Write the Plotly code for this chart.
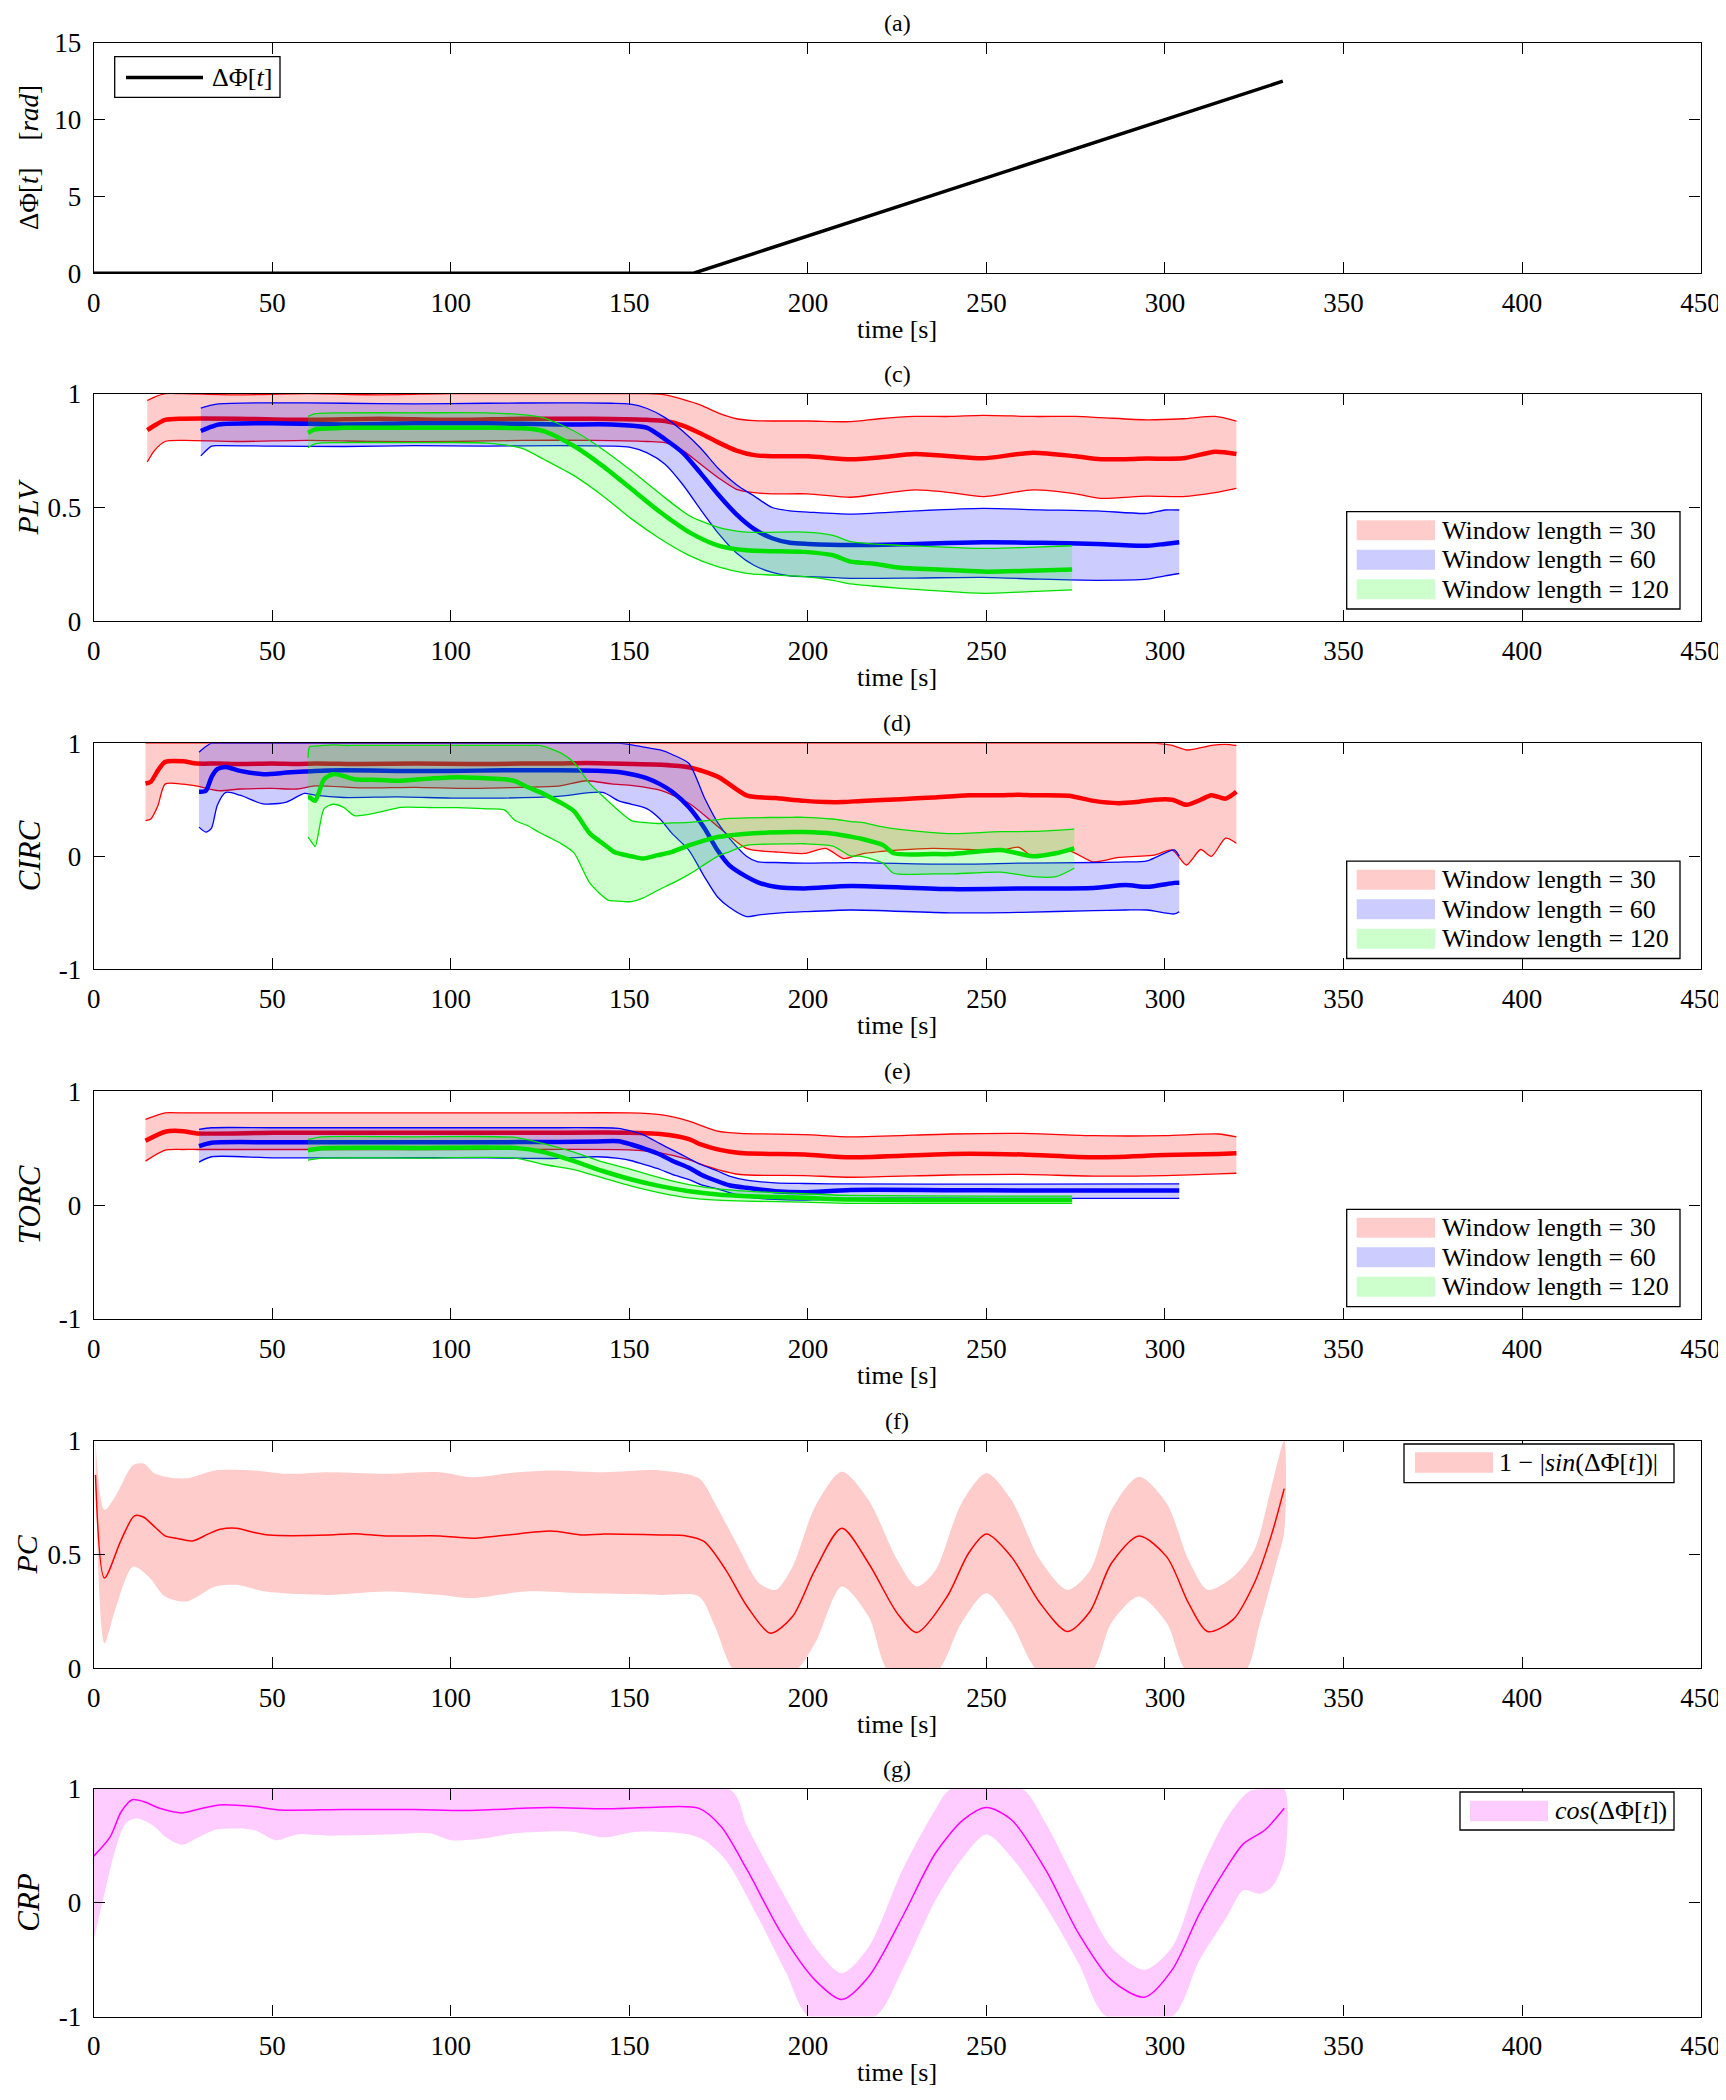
import plotly.graph_objects as go

FONT = "Liberation Serif"

# ---------------- data ----------------
xticks = [0, 50, 100, 150, 200, 250, 300, 350, 400, 450]

# (a) phase difference
a_t = [0, 168, 333]
a_v = [0, 0, 12.5]

# (c) PLV
plv_r_t = [15, 17, 20, 25, 40, 60, 80, 100, 120, 140, 155, 160, 165, 170, 175, 180, 185, 190, 200, 212, 220, 230, 240, 249, 263, 275, 282, 295, 305, 314, 320]
plv_r_m = [0.84, 0.86, 0.885, 0.89, 0.89, 0.885, 0.89, 0.885, 0.89, 0.89, 0.885, 0.88, 0.86, 0.825, 0.785, 0.75, 0.73, 0.725, 0.725, 0.712, 0.72, 0.735, 0.725, 0.716, 0.741, 0.725, 0.712, 0.715, 0.716, 0.745, 0.735]
plv_r_h = [0.97, 0.985, 1.0, 1.0, 0.995, 1.0, 0.995, 1.0, 1.0, 1.0, 1.0, 0.995, 0.975, 0.95, 0.915, 0.89, 0.882, 0.88, 0.88, 0.877, 0.89, 0.9, 0.9, 0.905, 0.9, 0.9, 0.895, 0.885, 0.89, 0.9, 0.88]
plv_r_l = [0.70, 0.75, 0.79, 0.795, 0.79, 0.795, 0.79, 0.79, 0.795, 0.795, 0.79, 0.785, 0.75, 0.69, 0.63, 0.58, 0.565, 0.56, 0.56, 0.545, 0.56, 0.577, 0.565, 0.548, 0.577, 0.56, 0.54, 0.55, 0.548, 0.565, 0.584]

plv_b_t = [30, 33, 35, 50, 70, 90, 110, 130, 145, 150, 155, 160, 165, 170, 175, 180, 185, 190, 195, 200, 212, 230, 249, 265, 281, 295, 300, 304]
plv_b_m = [0.836, 0.855, 0.865, 0.87, 0.865, 0.87, 0.87, 0.865, 0.865, 0.86, 0.85, 0.80, 0.74, 0.65, 0.555, 0.47, 0.405, 0.365, 0.345, 0.34, 0.335, 0.34, 0.347, 0.345, 0.34, 0.332, 0.34, 0.347]
plv_b_h = [0.937, 0.95, 0.955, 0.96, 0.958, 0.955, 0.958, 0.96, 0.958, 0.955, 0.935, 0.895, 0.835, 0.76, 0.67, 0.6, 0.55, 0.5, 0.485, 0.48, 0.471, 0.485, 0.496, 0.49, 0.485, 0.474, 0.489, 0.489]
plv_b_l = [0.727, 0.77, 0.772, 0.77, 0.768, 0.772, 0.77, 0.772, 0.77, 0.765, 0.74, 0.69, 0.60, 0.49, 0.385, 0.30, 0.245, 0.215, 0.2, 0.196, 0.189, 0.19, 0.193, 0.185, 0.18, 0.185, 0.2, 0.21]

plv_g_t = [60, 62, 70, 90, 110, 120, 126, 134.5, 142.5, 150.6, 158.6, 166.7, 174.7, 182.8, 199, 207, 212, 218, 226, 240, 250, 262, 274]
plv_g_m = [0.828, 0.843, 0.85, 0.85, 0.85, 0.848, 0.836, 0.77, 0.683, 0.581, 0.48, 0.392, 0.334, 0.312, 0.305, 0.29, 0.262, 0.254, 0.235, 0.225, 0.218, 0.222, 0.228]
plv_g_h = [0.9, 0.912, 0.916, 0.916, 0.916, 0.908, 0.894, 0.836, 0.756, 0.661, 0.56, 0.465, 0.414, 0.392, 0.392, 0.378, 0.35, 0.34, 0.334, 0.325, 0.32, 0.325, 0.332]
plv_g_l = [0.763, 0.78, 0.785, 0.785, 0.783, 0.76, 0.712, 0.64, 0.552, 0.45, 0.363, 0.29, 0.24, 0.211, 0.196, 0.18, 0.164, 0.155, 0.145, 0.13, 0.123, 0.13, 0.138]

# (d) CIRC
circ_r_t = [14.5, 16, 18, 20, 25, 29, 35, 41, 50, 57, 62, 75, 90, 105, 120, 130, 138, 145, 151, 159, 167, 175, 183, 191, 199, 205, 210, 215, 226, 235, 245, 254, 259, 263, 273, 280, 287, 292, 297, 302, 306, 310, 313, 317, 320]
circ_r_m = [0.644, 0.66, 0.76, 0.835, 0.84, 0.82, 0.82, 0.815, 0.82, 0.815, 0.82, 0.815, 0.82, 0.815, 0.82, 0.82, 0.825, 0.82, 0.815, 0.81, 0.785, 0.70, 0.536, 0.515, 0.49, 0.48, 0.48, 0.49, 0.505, 0.52, 0.54, 0.54, 0.545, 0.54, 0.535, 0.49, 0.47, 0.48, 0.5, 0.5, 0.455, 0.5, 0.54, 0.51, 0.57]
circ_r_h = [1.0, 1.0, 1.0, 1.0, 1.0, 1.0, 1.0, 1.0, 1.0, 1.0, 1.0, 1.0, 1.0, 1.0, 1.0, 1.0, 1.0, 1.0, 1.0, 1.0, 1.0, 1.0, 1.0, 1.0, 1.0, 1.0, 1.0, 1.0, 1.0, 1.0, 1.0, 1.0, 1.0, 1.0, 1.0, 1.0, 1.0, 1.0, 1.0, 0.98, 0.94, 0.96, 0.98, 0.99, 0.98]
circ_r_l = [0.316, 0.33, 0.45, 0.638, 0.638, 0.62, 0.58, 0.595, 0.6, 0.595, 0.623, 0.605, 0.61, 0.6, 0.61, 0.62, 0.668, 0.64, 0.624, 0.58, 0.463, 0.258, 0.067, 0.038, 0.025, 0.07, -0.02, 0.02, 0.056, 0.07, 0.06, 0.05, 0.08, 0.0, 0.05, -0.05, -0.01, 0.0, 0.01, 0.056, -0.077, 0.06, 0.0, 0.16, 0.115]

circ_b_t = [29.5, 31.4, 33, 34.6, 37, 41, 47.5, 54, 59, 62, 70, 85, 100, 115, 130, 142.5, 147, 150.6, 155, 158.6, 162, 166.7, 171, 174.7, 178, 182.8, 186, 190.8, 199, 212, 240, 260, 280, 289, 295, 302.6, 304]
circ_b_m = [0.571, 0.58, 0.7, 0.77, 0.79, 0.755, 0.726, 0.74, 0.75, 0.755, 0.76, 0.755, 0.755, 0.76, 0.76, 0.755, 0.745, 0.726, 0.69, 0.638, 0.57, 0.433, 0.25, 0.053, -0.08, -0.18, -0.23, -0.27, -0.284, -0.263, -0.29, -0.285, -0.28, -0.254, -0.27, -0.235, -0.233]
circ_b_h = [0.92, 0.97, 1.0, 1.0, 1.0, 1.0, 1.0, 1.0, 1.0, 1.0, 1.0, 1.0, 1.0, 1.0, 1.0, 1.0, 1.0, 0.985, 0.96, 0.94, 0.9, 0.82, 0.52, 0.3, 0.16, 0.0, -0.05, -0.055, -0.06, -0.056, -0.07, -0.06, -0.055, -0.05, -0.04, 0.056, 0.0]
circ_b_l = [0.258, 0.214, 0.25, 0.45, 0.565, 0.54, 0.463, 0.48, 0.556, 0.54, 0.52, 0.525, 0.515, 0.515, 0.53, 0.565, 0.49, 0.46, 0.42, 0.33, 0.2, 0.053, -0.18, -0.36, -0.45, -0.533, -0.52, -0.505, -0.49, -0.475, -0.5, -0.495, -0.48, -0.475, -0.475, -0.51, -0.49]

circ_g_t = [60, 60.5, 62, 64.5, 67, 70, 73, 80, 86, 95, 102, 110, 115, 118, 121.6, 124.8, 128, 131, 134.5, 139, 144, 145.7, 150.6, 153.8, 158, 162, 166.7, 170, 174.7, 178, 182.8, 195.6, 199, 207, 212, 215, 221, 224, 235, 240, 254, 263, 269.5, 274.6]
circ_g_m = [0.52, 0.52, 0.49, 0.68, 0.726, 0.71, 0.682, 0.675, 0.668, 0.69, 0.70, 0.69, 0.682, 0.665, 0.61, 0.57, 0.52, 0.47, 0.40, 0.2, 0.08, 0.038, 0.0, -0.02, 0.01, 0.04, 0.097, 0.13, 0.17, 0.185, 0.2, 0.214, 0.214, 0.2, 0.174, 0.155, 0.1, 0.027, 0.02, 0.02, 0.056, 0.0, 0.027, 0.07]
circ_g_h = [0.87, 0.97, 0.975, 0.98, 0.985, 0.98, 0.98, 0.98, 0.98, 0.98, 0.98, 0.98, 0.98, 0.98, 0.98, 0.98, 0.95, 0.91, 0.83, 0.64, 0.49, 0.44, 0.316, 0.3, 0.29, 0.295, 0.30, 0.31, 0.325, 0.335, 0.34, 0.345, 0.345, 0.33, 0.307, 0.3, 0.26, 0.245, 0.21, 0.2, 0.218, 0.22, 0.23, 0.24]
circ_g_l = [0.17, 0.15, 0.088, 0.42, 0.46, 0.433, 0.36, 0.39, 0.433, 0.43, 0.43, 0.42, 0.41, 0.316, 0.27, 0.21, 0.16, 0.11, 0.03, -0.24, -0.387, -0.395, -0.40, -0.37, -0.3, -0.24, -0.16, -0.094, 0.0, 0.04, 0.097, 0.11, 0.111, 0.09, 0.003, 0.0, -0.06, -0.15, -0.155, -0.156, -0.14, -0.18, -0.18, -0.106]

# (e) TORC
torc_r_t = [14.5, 20, 25, 29, 50, 75, 100, 125, 150, 158.6, 166.7, 170, 174.7, 181, 199, 212, 240, 260, 280, 300, 315, 320]
torc_r_m = [0.565, 0.645, 0.65, 0.63, 0.636, 0.636, 0.636, 0.636, 0.636, 0.625, 0.58, 0.533, 0.49, 0.458, 0.445, 0.42, 0.45, 0.445, 0.42, 0.44, 0.45, 0.455]
torc_r_h = [0.753, 0.811, 0.81, 0.81, 0.81, 0.81, 0.81, 0.81, 0.81, 0.795, 0.738, 0.70, 0.65, 0.63, 0.62, 0.6, 0.625, 0.63, 0.61, 0.61, 0.625, 0.6]
torc_r_l = [0.387, 0.483, 0.489, 0.489, 0.489, 0.489, 0.489, 0.489, 0.485, 0.46, 0.40, 0.36, 0.313, 0.269, 0.26, 0.245, 0.265, 0.27, 0.255, 0.26, 0.275, 0.28]

torc_b_t = [29.5, 33, 50, 80, 110, 130, 141, 147, 150.6, 153.8, 158.6, 162, 166.7, 170, 174.7, 178, 182.8, 190.8, 199, 212, 250, 304]
torc_b_m = [0.518, 0.548, 0.553, 0.553, 0.553, 0.555, 0.56, 0.562, 0.533, 0.5, 0.445, 0.39, 0.328, 0.27, 0.21, 0.175, 0.152, 0.123, 0.114, 0.133, 0.13, 0.128]
torc_b_h = [0.665, 0.68, 0.68, 0.68, 0.68, 0.68, 0.68, 0.675, 0.65, 0.62, 0.54, 0.485, 0.41, 0.357, 0.3, 0.255, 0.22, 0.196, 0.19, 0.186, 0.185, 0.186]
torc_b_l = [0.378, 0.425, 0.416, 0.416, 0.416, 0.41, 0.425, 0.41, 0.39, 0.36, 0.313, 0.27, 0.225, 0.18, 0.143, 0.11, 0.073, 0.05, 0.044, 0.06, 0.06, 0.06]

torc_g_t = [60, 64, 90, 118, 126, 134.5, 142.5, 150.6, 158.6, 166.7, 174.7, 182.8, 199, 212, 250, 274]
torc_g_m = [0.483, 0.5, 0.503, 0.503, 0.466, 0.387, 0.3, 0.225, 0.167, 0.123, 0.094, 0.079, 0.064, 0.05, 0.045, 0.045]
torc_g_h = [0.577, 0.6, 0.6, 0.595, 0.54, 0.465, 0.38, 0.313, 0.24, 0.18, 0.143, 0.123, 0.1, 0.085, 0.08, 0.08]
torc_g_l = [0.395, 0.413, 0.413, 0.413, 0.357, 0.313, 0.24, 0.167, 0.108, 0.064, 0.044, 0.035, 0.026, 0.016, 0.016, 0.016]

# (f) PC = 1 - |sin(dPhi)|
pc_m_t = [0.5, 3, 7.7, 11.4, 13.9, 17, 20, 23, 27.7, 32, 35.4, 40, 44.7, 49, 66, 73, 81.7, 97, 106, 115.6, 128, 137, 143, 158.7, 166, 171, 177, 183, 189.5, 195.7, 202, 209.5, 217, 225, 230.5, 239, 245, 250, 257, 265, 272.7, 279, 285, 292.7, 300.5, 306.6, 311.9, 319, 325, 329.7, 333.4]
pc_m = [0.85, 0.397, 0.565, 0.67, 0.665, 0.623, 0.582, 0.572, 0.56, 0.59, 0.611, 0.616, 0.598, 0.586, 0.586, 0.592, 0.582, 0.582, 0.572, 0.586, 0.604, 0.586, 0.59, 0.586, 0.582, 0.557, 0.433, 0.272, 0.155, 0.228, 0.433, 0.616, 0.462, 0.243, 0.158, 0.316, 0.506, 0.59, 0.49, 0.287, 0.162, 0.25, 0.462, 0.582, 0.49, 0.287, 0.162, 0.213, 0.374, 0.58, 0.79]
pc_h_t = [0.5, 3, 6, 11, 14, 17, 20, 26, 34, 44.7, 54, 66, 81.7, 97, 106, 118.6, 128, 143, 158.7, 169.5, 174, 180, 186.4, 191, 195.7, 202, 209.5, 217, 225, 230.5, 235.7, 243, 250, 257, 265, 272.7, 279, 285, 292.7, 300.5, 306.6, 312, 319, 325, 329.7, 333.4]
pc_h = [1.0, 0.696, 0.754, 0.893, 0.9, 0.857, 0.842, 0.835, 0.87, 0.87, 0.855, 0.862, 0.855, 0.862, 0.84, 0.862, 0.87, 0.862, 0.87, 0.835, 0.725, 0.55, 0.374, 0.345, 0.447, 0.71, 0.864, 0.74, 0.477, 0.36, 0.43, 0.725, 0.857, 0.74, 0.477, 0.345, 0.43, 0.696, 0.842, 0.725, 0.477, 0.345, 0.40, 0.52, 0.79, 1.0]
pc_l_t = [0.5, 3, 6, 11, 15.4, 20, 26, 34, 40, 48, 66, 81.7, 97, 106, 121, 137, 158.7, 169.5, 174, 180, 195.7, 202, 209.5, 217, 223, 235.7, 243, 250, 257, 265, 279, 285, 292.7, 300.5, 306.6, 322, 326.6, 331, 333.4]
pc_l = [0.85, 0.11, 0.257, 0.447, 0.403, 0.316, 0.294, 0.36, 0.367, 0.338, 0.323, 0.338, 0.323, 0.309, 0.338, 0.33, 0.323, 0.316, 0.184, -0.02, -0.02, 0.11, 0.36, 0.228, -0.02, -0.02, 0.2, 0.33, 0.2, -0.02, -0.02, 0.2, 0.316, 0.2, -0.02, -0.02, 0.2, 0.45, 0.6]

# (g) CRP = cos(dPhi)
crp_m_t = [0, 4.6, 7.7, 10.8, 13.9, 18.5, 24.7, 29, 35.4, 44.7, 52, 70, 90, 103, 112, 128, 143, 155, 169.5, 175.7, 183, 192.6, 202, 209.5, 217, 226.5, 235.7, 243.5, 250, 257, 266.6, 275.8, 285, 294.3, 302, 309.7, 317.4, 322, 328, 333.4]
crp_m = [0.41, 0.58, 0.8, 0.905, 0.89, 0.83, 0.79, 0.82, 0.86, 0.846, 0.816, 0.82, 0.82, 0.81, 0.82, 0.837, 0.826, 0.837, 0.83, 0.67, 0.288, -0.27, -0.68, -0.85, -0.65, -0.123, 0.435, 0.728, 0.837, 0.73, 0.288, -0.27, -0.68, -0.83, -0.59, -0.094, 0.317, 0.52, 0.64, 0.83]
crp_h_t = [0, 178, 183, 192.6, 202, 209.5, 217, 226.5, 235.7, 240, 260, 266.6, 275.8, 285, 294.3, 302, 309.7, 317.4, 323.6, 328, 333.4]
crp_h = [1.0, 1.0, 0.67, 0.11, -0.39, -0.62, -0.39, 0.29, 0.82, 1.0, 1.0, 0.7, 0.14, -0.39, -0.59, -0.39, 0.26, 0.75, 0.98, 1.0, 1.0]
crp_l_t = [0, 3, 6, 9, 12.3, 17, 20, 24.7, 29, 34, 44.7, 51, 57, 66, 82, 94, 100, 109, 118, 134, 143, 152, 166, 171, 177, 186.4, 194, 200.3, 218.8, 226.5, 235.7, 243.5, 250, 257, 266.6, 275.8, 283.6, 302, 309.7, 317.4, 322, 326.6, 330, 333.4]
crp_l = [-0.33, 0.08, 0.46, 0.7, 0.74, 0.67, 0.58, 0.51, 0.57, 0.64, 0.64, 0.55, 0.6, 0.59, 0.6, 0.61, 0.55, 0.565, 0.61, 0.625, 0.575, 0.625, 0.605, 0.55, 0.376, -0.15, -0.62, -1.0, -1.0, -0.59, 0.02, 0.4, 0.6, 0.4, -0.03, -0.53, -1.0, -1.0, -0.5, -0.12, 0.11, 0.08, 0.14, 0.38]

win_names = ["Window length = 30", "Window length = 60", "Window length = 120"]

# ---------------- styling ----------------
RED, BLUE, GREEN, MAG = "rgb(255,0,0)", "rgb(0,0,255)", "rgb(0,225,0)", "rgb(255,0,255)"
FRED, FBLUE, FGREEN, FMAG = "rgba(255,0,0,0.2)", "rgba(0,0,255,0.2)", "rgba(0,255,0,0.2)", "rgba(255,0,255,0.2)"

SCR_W, SCR_H, OFF = 1726, 2100, 8          # page has an 8 px body margin
W, H = SCR_W - OFF, SCR_H - OFF
X0, X1 = 93.7, 1700.6                       # screen px of plot area
panels_px = [(42.8, 273.2), (393.7, 621.3), (743.2, 969.4), (1091.3, 1319.0), (1440.8, 1668.4), (1789.0, 2016.5)]


def px(X):
    return (X - OFF) / W


def py(Y):
    return 1 - (Y - OFF) / H


fig = go.Figure()


def ax(i):
    return ("x" if i == 1 else f"x{i}"), ("y" if i == 1 else f"y{i}")


SM = 0.7


def band(i, t, lo, hi, mean, col, fcol, mw=4.5, ew=1.3):
    xa, ya = ax(i)
    common = dict(xaxis=xa, yaxis=ya, hoverinfo="skip", mode="lines", showlegend=False)
    fig.add_trace(go.Scatter(x=t, y=lo, line=dict(width=0, shape="spline", smoothing=SM), **common))
    fig.add_trace(go.Scatter(x=t, y=hi, fill="tonexty", fillcolor=fcol, line=dict(width=0, shape="spline", smoothing=SM), **common))
    fig.add_trace(go.Scatter(x=t, y=lo, line=dict(width=ew, color=col, shape="spline", smoothing=SM), **common))
    fig.add_trace(go.Scatter(x=t, y=hi, line=dict(width=ew, color=col, shape="spline", smoothing=SM), **common))
    fig.add_trace(go.Scatter(x=t, y=mean, line=dict(width=mw, color=col, shape="spline", smoothing=SM), **common))


# (a)
fig.add_trace(go.Scatter(x=a_t, y=a_v, mode="lines", line=dict(color="black", width=3.5),
                         showlegend=False, xaxis="x", yaxis="y"))

sets = [
    (2, [(plv_r_t, plv_r_l, plv_r_h, plv_r_m), (plv_b_t, plv_b_l, plv_b_h, plv_b_m), (plv_g_t, plv_g_l, plv_g_h, plv_g_m)]),
    (3, [(circ_r_t, circ_r_l, circ_r_h, circ_r_m), (circ_b_t, circ_b_l, circ_b_h, circ_b_m), (circ_g_t, circ_g_l, circ_g_h, circ_g_m)]),
    (4, [(torc_r_t, torc_r_l, torc_r_h, torc_r_m), (torc_b_t, torc_b_l, torc_b_h, torc_b_m), (torc_g_t, torc_g_l, torc_g_h, torc_g_m)]),
]
for i, series in sets:
    for (t, lo, hi, m), col, fcol in zip(series, [RED, BLUE, GREEN], [FRED, FBLUE, FGREEN]):
        band(i, t, lo, hi, m, col, fcol)


def poly_band(i, th, hi, tl, lo, fcol):
    xa, ya = ax(i)
    fig.add_trace(go.Scatter(x=th + tl[::-1], y=hi + lo[::-1], fill="toself", fillcolor=fcol, mode="lines",
                             line=dict(width=0, shape="spline", smoothing=0.8), showlegend=False,
                             hoverinfo="skip", xaxis=xa, yaxis=ya))


poly_band(5, pc_h_t, pc_h, pc_l_t, pc_l, FRED)
fig.add_trace(go.Scatter(x=pc_m_t, y=pc_m, mode="lines", line=dict(color=RED, width=1.5, shape="spline", smoothing=0.8),
                         showlegend=False, xaxis="x5", yaxis="y5"))
poly_band(6, crp_h_t, crp_h, crp_l_t, crp_l, FMAG)
fig.add_trace(go.Scatter(x=crp_m_t, y=crp_m, mode="lines", line=dict(color=MAG, width=1.5, shape="spline", smoothing=0.8),
                         showlegend=False, xaxis="x6", yaxis="y6"))

# ---------------- layout ----------------
tickfont = dict(family=FONT, size=27, color="black")
axbase = dict(showline=True, linecolor="black", linewidth=1.3, mirror="ticks", ticks="inside", ticklen=11,
              tickcolor="black", tickwidth=1.3, showgrid=False, zeroline=False, tickfont=tickfont, automargin=False)

yranges = [[0, 15], [0, 1], [-1, 1], [-1, 1], [0, 1], [-1, 1]]
yticks = [[0, 5, 10, 15], [0, 0.5, 1], [-1, 0, 1], [-1, 0, 1], [0, 0.5, 1], [-1, 0, 1]]
ytext = [["0", "5", "10", "15"], ["0", "0.5", "1"], ["-1", "0", "1"], ["-1", "0", "1"], ["0", "0.5", "1"], ["-1", "0", "1"]]
titles = ["(a)", "(c)", "(d)", "(e)", "(f)", "(g)"]
ylabels = ["ΔΦ[<i>t</i>]\u00a0\u00a0\u00a0\u00a0[<i>rad</i>]", "<i>PLV</i>", "<i>CIRC</i>", "<i>TORC</i>", "<i>PC</i>", "<i>CRP</i>"]
ylabel_x = [29, 27, 29, 29, 27, 29]
ylabel_size = [27, 30, 31, 31, 30, 31]

layout = dict(width=W, height=H, margin=dict(l=0, r=0, t=0, b=0), paper_bgcolor="white", plot_bgcolor="white",
              font=dict(family=FONT, color="black"), showlegend=False)
annotations = []
shapes = []
xdom = [px(X0), px(X1)]
for k in range(6):
    i = k + 1
    top, bot = panels_px[k]
    ydom = [py(bot), py(top)]
    xkey = "xaxis" if i == 1 else f"xaxis{i}"
    ykey = "yaxis" if i == 1 else f"yaxis{i}"
    xa, ya = ax(i)
    layout[xkey] = dict(axbase, domain=xdom, range=[0, 450], tickvals=xticks, anchor=ya, ticklabelstandoff=5)
    layout[ykey] = dict(axbase, domain=ydom, range=yranges[k], tickvals=yticks[k], ticktext=ytext[k],
                        anchor=xa, ticklabelstandoff=6)
    xd, yd = xa + " domain", ya + " domain"
    annotations.append(dict(text=titles[k], xref=xd, yref=yd, x=0.5, y=1, yanchor="middle", yshift=20,
                            showarrow=False, font=dict(family=FONT, size=24)))
    annotations.append(dict(text="time [s]", xref=xd, yref=yd, x=0.5, y=0, yanchor="middle", yshift=-56,
                            showarrow=False, font=dict(family=FONT, size=26)))
    annotations.append(dict(text=ylabels[k], xref="paper", yref=yd, x=px(ylabel_x[k]), y=0.5, xanchor="center",
                            yanchor="middle", textangle=-90, showarrow=False, font=dict(family=FONT, size=ylabel_size[k])))

# ---------------- legends (drawn boxes, swatches and labels) ----------------
LEGFONT = dict(family=FONT, size=26, color="black")


def legend_box(x0, y0, x1, y1):
    shapes.append(dict(type="rect", xref="paper", yref="paper", x0=px(x0), x1=px(x1), y0=py(y1), y1=py(y0),
                       line=dict(color="black", width=1.3), fillcolor="white", layer="above"))


def legend_swatch(x0, x1, yc, h, color):
    shapes.append(dict(type="rect", xref="paper", yref="paper", x0=px(x0), x1=px(x1), y0=py(yc + h / 2),
                       y1=py(yc - h / 2), line=dict(width=0), fillcolor=color, layer="above"))


def legend_text(x, yc, text):
    annotations.append(dict(text=text, xref="paper", yref="paper", x=px(x), y=py(yc), xanchor="left",
                            yanchor="middle", showarrow=False, font=LEGFONT))


# (a)
legend_box(114.7, 56.7, 280, 97.3)
shapes.append(dict(type="line", xref="paper", yref="paper", x0=px(126), x1=px(203), y0=py(77.5), y1=py(77.5),
                   line=dict(color="black", width=3.5), layer="above"))
legend_text(210, 77, "ΔΦ[<i>t</i>]")

# (c) (d) (e)
for k in (1, 2, 3):
    top = panels_px[k][0]
    legend_box(1346.7, top + 118, 1680, top + 215.3)
    for j, (fc, nm) in enumerate(zip([FRED, FBLUE, FGREEN], win_names)):
        yc = top + 136.5 + 29.5 * j
        legend_swatch(1356.7, 1435, yc, 20, fc)
        legend_text(1440, yc, nm)

# (f)
legend_box(1404, 1444, 1674, 1482.7)
legend_swatch(1415, 1493, 1462.5, 20.5, FRED)
legend_text(1497, 1462, "1 − |<i>sin</i>(ΔΦ[<i>t</i>])|")

# (g)
legend_box(1460, 1792, 1674, 1830)
legend_swatch(1470, 1548, 1811, 20.5, FMAG)
legend_text(1553, 1810, "<i>cos</i>(ΔΦ[<i>t</i>])")

layout["annotations"] = annotations
layout["shapes"] = shapes

fig.update_layout(**layout)
fig.write_html("out.html")
